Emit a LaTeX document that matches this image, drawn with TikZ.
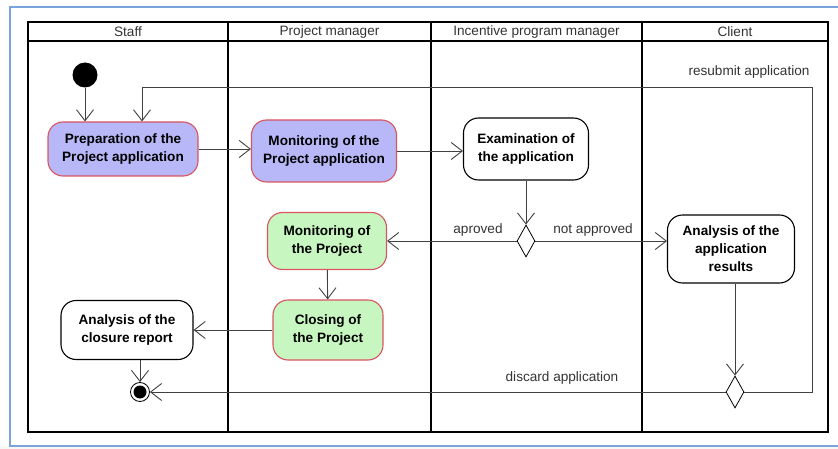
\documentclass[tikz,border=0pt]{standalone}
\usepackage{fontspec}
\setmainfont{Liberation Sans}
\usepackage{tikz}
\usetikzlibrary{positioning, shapes.geometric, arrows.meta}

\definecolor{lavblue}{RGB}{184,184,248}
\definecolor{actred}{RGB}{216,84,96}
\definecolor{actgreen}{RGB}{200,246,192}
\definecolor{framblue}{RGB}{122,164,220}

\begin{document}
\begin{tikzpicture}[
        x=1pt, y=-1pt,
        act/.style={draw, line width=1.1pt, rounded corners=15pt, align=center,
          font=\fontsize{13.6}{18}\selectfont\bfseries, inner sep=1pt},
        actblue/.style={act, fill=lavblue, draw=actred},
        actgreen/.style={act, fill=actgreen, draw=actred},
        dec/.style={diamond, draw, line width=0.8pt, fill=white, inner sep=0pt,
          minimum width=18pt, minimum height=32pt},
        arr/.style={-{Straight Barb[length=11pt,width=17pt]}, line width=0.9pt, draw=black!75},
        lbl/.style={font=\fontsize{13.6}{16}\selectfont, text=black!80},
        lane/.style={line width=1.6pt}
      ]
      \useasboundingbox (0,0) rectangle (838,449);
      \fill[black!3] (0,446) rectangle (838,449);
      \draw[framblue, line width=1.6pt] (840,7) -- (10,7) -- (10,446) -- (840,446);

      % swimlanes
      \draw[lane] (28,22) rectangle (828,432);
      \draw[lane] (28,41) -- (828,41);
      \foreach \x in {228,431,642}{\draw[lane] (\x,22) -- (\x,432);}
      \foreach \x/\name in {128/Staff, 329.5/Project manager, 536.5/Incentive program manager, 735/Client}{
        \node[lbl] (h\x) at (\x,31.5) {\name};
      }

      % activities
      \node[circle, fill=black, minimum size=25pt, inner sep=0pt] (start) at (85,75) {};
      \node[actblue, minimum width=150pt, minimum height=54pt] (prep) at (123,149) {Preparation of the\\Project application};
      \node[actblue, minimum width=145pt, minimum height=62pt] (monapp) at (324,151) {Monitoring of the\\Project application};
      \node[act, minimum width=125pt, minimum height=62pt] (exam) at (526,149) {Examination of\\the application};
      \node[dec] (dec1) at (526,241) {};
      \node[actgreen, minimum width=119pt, minimum height=57pt] (monproj) at (327,241) {Monitoring of\\the Project};
      \node[act, minimum width=127pt, minimum height=68pt] (results) at (731,249) {Analysis of the\\application\\results};
      \node[actgreen, minimum width=110pt, minimum height=60pt] (closing) at (328,330) {Closing of\\the Project};
      \node[act, minimum width=132pt, minimum height=59pt] (closure) at (127,330) {Analysis of the\\closure report};
      \node[dec] (dec2) at (735,392) {};
      \node[circle, draw, line width=0.8pt, fill=white, minimum size=19pt, inner sep=0pt] (final) at (140,392) {};
      \fill (final) circle (6.5pt);
      \coordinate (back) at (812,87);

      % flows
      \draw[arr] (start) -- (start |- prep.north);
      \draw[arr] (prep.east) -- (prep.east -| monapp.west);
      \draw[arr] (monapp.east) -- (monapp.east -| exam.west);
      \draw[arr] (exam) -- (dec1);
      \draw[arr] (dec1.west) -- (monproj.east);
      \draw[arr] (dec1.east) -- (dec1.east -| results.west);
      \draw[arr] (results.south -| dec2) -- (dec2.north);
      \draw[arr] (monproj) -- (closing);
      \draw[arr] (closing.west) -- (closing.west -| closure.east);
      \draw[arr] (closure.south -| final) -- (final);
      \draw[arr] (dec2.west) -- (final);
      \draw[arr] (dec2.east) -| (back) -| ([xshift=19pt]prep.north);

      \node[lbl] (aprov) at (478,230) {aproved};
      \node[lbl] (notaprov) at (593,230) {not approved};
      \node[lbl] (discard) at (562,378) {discard application};
      \node[lbl] (resub) at (749,72) {resubmit application};
    \end{tikzpicture}
\end{document}
